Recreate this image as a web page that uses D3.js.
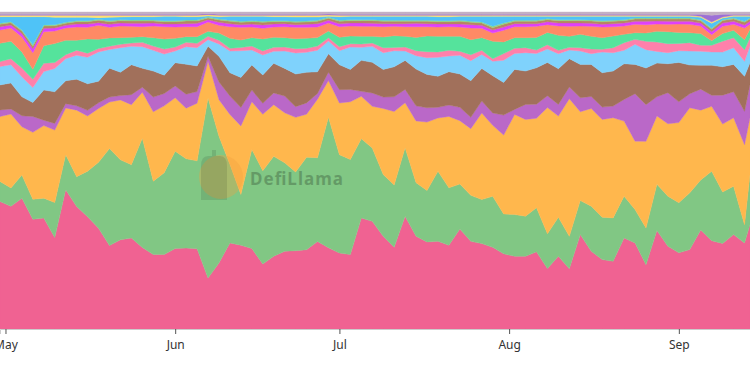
<!DOCTYPE html>
<html>
<head>
<meta charset="utf-8">
<script src="https://cdn.jsdelivr.net/npm/d3@7"></script>
<style>
  html, body { margin: 0; padding: 0; background: #fff; }
  svg { display: block; }
  .axis text { font-family: "Noto Sans", sans-serif; font-size: 12px; fill: #333; }
</style>
</head>
<body>
<div id="chart"></div>
<script>
// share of TVL per protocol, sampled every 2 days (relative units, chart is 100% stacked)
const startDate = new Date(2022, 3, 30);
const endDate = new Date(2022, 8, 14);
const dates = d3.range(69).map(i => d3.timeDay.offset(startDate, 2 * i)).concat([endDate]);

const pink = [383,368,393,331,333,275,418,368,338,303,251,268, 273,245,223,223,241,243,241,153,198,258,251, 241,195,218,233,235,238,263,243,228,223,333,323, 278,245,338,278,261,263,251,300,263,256,245, 226,218,218,231,181,218,181,283,233,208,203,273, 258,193,295,248,228,238,298,265,258,283,258,313];
const green = [60,55,70,60,60,105,105,90,137,198,292,240, 220,328,220,245,292,268,264,540,380,235,152, 297,280,300,265,236,278,252,390,295,285,238,220, 185,186,205,160,154,210,172,135,138,132,153, 120,125,120,132,104,117,97,102,135,127,130,125, 100,110,138,150,150,170,150,208,155,145,55,150];
const orange = [195,222,145,202,218,218,140,200,166,162,140,180, 180,138,208,200,160,152,173,110,110,150,205, 143,170,155,150,164,129,176,110,155,173,127,125, 198,220,135,185,205,160,214,190,200,259,213, 237,300,290,268,378,303,413,266,293,293,300,225, 205,260,205,217,240,255,210,195,205,205,240,170];
const purple = [20,15,33,48,16,20,13,13,17,17,15,13, 30,15,44,37,35,42,35,15,53,55,55, 35,33,35,50,32,34,17,25,40,37,15,40, 34,44,40,45,43,32,34,40,34,36,37, 60,15,45,42,35,35,35,42,36,37,35,65, 142,110,57,93,62,42,63,33,87,78,100,100];
const brown = [75,78,57,42,91,95,69,80,80,65,87,70, 90,57,78,55,70,90,77,30,77,70,90, 75,85,89,83,98,92,65,55,75,60,93,92, 83,90,87,110,100,93,100,100,110,98,112, 98,120,100,109,100,107,85,100,96,103,105,107, 88,110,101,87,118,86,72,90,86,82,105,65];
const lightBlue = [55,55,60,45,55,70,66,72,80,88,56,74, 55,65,62,63,35,53,55,20,37,65,80, 45,60,36,52,63,60,65,38,42,67,39,48, 50,48,28,40,50,57,47,56,60,42,43, 67,48,55,43,40,45,26,40,32,62,55,40, 60,55,35,33,35,42,42,40,44,50,45,50];
const rose = [15,18,27,25,25,18,12,15,12,10,10,10, 10,13,13,15,12,13,13,10,11,8,10, 12,12,12,12,13,12,13,10,12,10,10,10, 15,10,12,15,18,16,17,12,18,12,8, 20,15,15,10,13,10,8,10,14,8,15,23, 15,25,28,27,22,25,18,20,33,30,35,25];
const mint = [55,52,48,30,53,57,43,30,43,28,25,20, 17,17,25,30,26,17,20,15,22,30,22, 25,36,30,28,30,30,25,20,28,23,23,20, 32,35,32,40,47,47,42,45,45,38,52, 35,32,30,38,37,45,33,40,38,35,35,25, 20,25,32,36,33,30,35,14,23,22,30,25];
const salmon = [40,40,45,50,42,38,37,40,35,42,32,35, 33,30,35,37,34,30,30,28,23,35,38, 32,32,31,33,34,33,32,24,32,30,30,30, 31,28,29,32,28,28,29,28,35,28,25, 35,33,33,33,23,28,30,25,30,32,28,25, 25,25,22,22,25,25,23,18,22,18,35,15];
const magenta = [10,9,10,12,10,9,8,9,10,8,9,9, 9,10,9,8,9,9,10,7,9,9,8, 9,10,9,9,8,9,10,8,9,9,10,9, 9,8,9,10,9,9,8,9,10,9,9, 10,9,9,8,9,9,10,9,9,8,9,9, 9,10,9,9,8,9,9,9,10,9,9,9];
const tan = [7,7,8,8,7,7,6,7,7,7,8,7, 7,7,6,7,7,8,7,5,7,7,7, 7,8,7,6,7,7,7,6,7,7,7,8, 7,7,7,6,7,7,7,8,7,7,7, 8,7,7,7,6,7,7,7,7,8,7,7, 7,7,6,7,7,7,7,7,7,7,8,7];
const lime = [3,3,3,4,3,3,3,3,3,3,3,3, 3,3,3,3,3,3,3,3,3,3,3, 3,3,3,3,3,3,3,3,3,3,3,3, 3,3,3,3,3,3,3,3,3,3,4, 4,3,3,3,3,3,3,3,3,3,3,3, 3,3,3,3,3,3,3,3,3,3,3,3];
const sky = [20,15,40,85,25,22,15,10,10,5,10,8, 10,10,10,13,13,10,10,3,7,12,15, 13,15,12,12,13,12,10,3,11,10,10,10, 12,12,12,12,12,12,12,12,15,17,30, 20,12,12,12,7,10,10,10,11,13,12,10, 5,5,5,5,5,5,7,15,5,5,15,5];
const yellow = [4,4,4,4,4,6,6,6,6,7,6,5, 4,4,4,3,3,4,4,4,4,3,3, 3,3,4,4,5,5,5,4,4,3,3,3, 3,3,3,3,3,4,4,3,3,3,3, 3,3,3,3,3,3,3,3,3,3,3,3, 3,3,3,3,3,3,3,4,3,3,3,3];
const violet = [3,3,3,3,3,3,3,3,3,3,3,3, 3,3,3,3,3,3,3,3,3,3,3, 3,3,3,3,3,3,3,3,3,3,3,3, 3,3,3,3,3,3,3,3,3,3,3, 3,3,3,3,3,3,3,3,3,3,3,3, 3,3,3,3,3,3,6,20,8,3,3,3];
const others = [7,7,7,7,7,7,7,7,7,7,7,7, 7,7,7,7,7,7,7,5,7,7,7, 7,7,7,7,7,7,7,6,7,7,7,7, 7,7,7,7,7,7,7,7,7,7,7, 7,7,7,7,7,7,7,7,7,7,7,7, 7,7,7,7,7,7,7,10,7,7,7,7];

const series = [
  { key: 'pink', values: pink, color: '#f06292' },
  { key: 'green', values: green, color: '#81c784' },
  { key: 'orange', values: orange, color: '#ffb74d' },
  { key: 'purple', values: purple, color: '#ba68c8' },
  { key: 'brown', values: brown, color: '#a1705b' },
  { key: 'lightBlue', values: lightBlue, color: '#7fd2fc' },
  { key: 'rose', values: rose, color: '#ff80ab' },
  { key: 'mint', values: mint, color: '#55e39c' },
  { key: 'salmon', values: salmon, color: '#ff8a65' },
  { key: 'magenta', values: magenta, color: '#e040fb' },
  { key: 'tan', values: tan, color: '#b98462' },
  { key: 'lime', values: lime, color: '#8fd67a' },
  { key: 'sky', values: sky, color: '#4fc3f7' },
  { key: 'yellow', values: yellow, color: '#ffe16b' },
  { key: 'violet', values: violet, color: '#9c6fd6' },
  { key: 'others', values: others, color: '#c4b0c4' }
];

const width = 750, height = 365;
const margin = { top: 12, bottom: 36 };

const table = dates.map((d, i) => {
  const row = { date: d };
  series.forEach(s => { row[s.key] = s.values[i]; });
  return row;
});

const stacked = d3.stack()
  .keys(series.map(s => s.key))
  .order(d3.stackOrderNone)
  .offset(d3.stackOffsetExpand)(table);

const x = d3.scaleTime().domain([startDate, endDate]).range([0, width]);
const y = d3.scaleLinear().domain([0, 1]).range([height - margin.bottom, margin.top]);

const svg = d3.select('#chart')
  .append('svg')
  .attr('width', width)
  .attr('height', height);

const area = d3.area()
  .x(d => x(d.data.date))
  .y0(d => y(d[0]))
  .y1(d => y(d[1]));

svg.append('g')
  .selectAll('path')
  .data(stacked)
  .join('path')
    .attr('d', area)
    .attr('fill', (d, i) => series[i].color)
    .attr('stroke', (d, i) => series[i].color)
    .attr('stroke-width', 0.4);

// watermark: llama badge + name
const mark = svg.append('g').attr('pointer-events', 'none');
mark.append('circle')
  .attr('cx', 221).attr('cy', 177).attr('r', 22)
  .attr('fill', '#f0a040').attr('opacity', 0.35);
mark.append('path')
  .attr('d', 'M201,200 L201,166 Q201,156 208,156 L212,156 L212,150 L216,150 L216,156 L220,156 Q227,156 227,166 L227,200 Z')
  .attr('fill', '#000').attr('opacity', 0.1);
mark.append('text')
  .attr('x', 250).attr('y', 185)
  .attr('font-family', '"Noto Sans", sans-serif')
  .attr('font-weight', 700)
  .attr('font-size', 17)
  .attr('textLength', 93)
  .attr('fill', '#000').attr('opacity', 0.22)
  .text('DefiLlama');

const xAxis = svg.append('g')
  .attr('class', 'axis')
  .attr('transform', `translate(0,${height - margin.bottom})`)
  .call(d3.axisBottom(x)
    .ticks(d3.timeMonth.every(1))
    .tickFormat(d3.timeFormat('%b'))
    .tickSize(5)
    .tickPadding(6));
xAxis.select('.domain').attr('stroke', '#ccc');
xAxis.selectAll('.tick line').attr('stroke', '#555');
</script>
</body>
</html>
